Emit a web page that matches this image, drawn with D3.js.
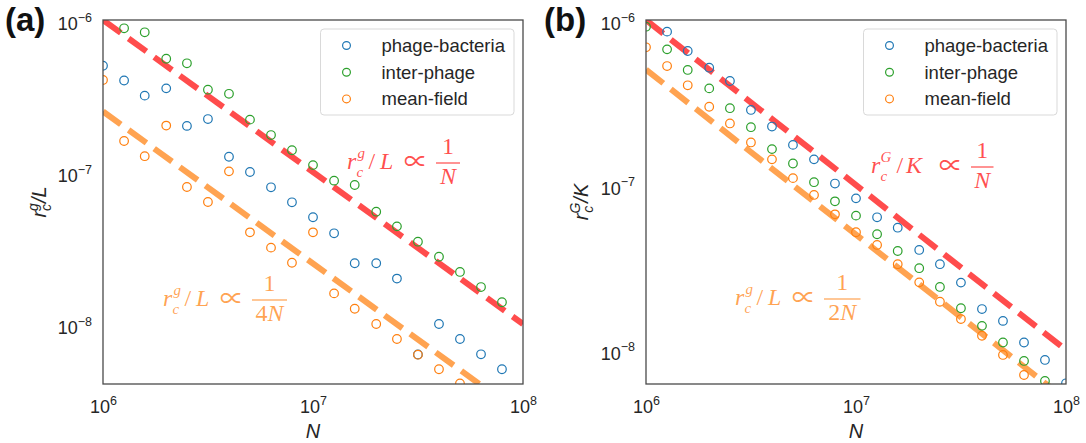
<!DOCTYPE html>
<html>
<head>
<meta charset="utf-8">
<script src="https://cdn.jsdelivr.net/npm/d3@7"></script>
<style>
  body { margin: 0; background: #fff; }
  svg { display: block; }
</style>
</head>
<body>
<svg id="chart" width="1086" height="443"></svg>
<script>
// Population sizes N (log-spaced, 10 per decade)
const popN = [1.0e6, 1.26e6, 1.58e6, 2.0e6, 2.51e6, 3.16e6, 3.98e6, 5.01e6, 6.31e6, 7.94e6,
              1.0e7, 1.26e7, 1.58e7, 2.0e7, 2.51e7, 3.16e7, 3.98e7, 5.01e7, 6.31e7, 7.94e7, 1.0e8];

const seriesNames  = ["phage-bacteria", "inter-phage", "mean-field"];
const seriesColors = ["#1f77b4", "#2ca02c", "#ff7f0e"];

// Panel (a): r_c^g / L
const aPhageBacteria = [5.0e-7, 4.0e-7, 3.18e-7, 3.55e-7, 2.01e-7, 2.23e-7, 1.26e-7, 1.0e-7, 7.93e-8, 6.32e-8,
                        5.04e-8, 3.95e-8, 2.51e-8, 2.51e-8, 1.99e-8, 6.3e-9, 1.0e-8, 7.97e-9, 6.32e-9, 5.04e-9, null];
const aInterPhage    = [null, 8.82e-7, 8.3e-7, 5.56e-7, 5.19e-7, 3.48e-7, 3.27e-7, 2.21e-7, 1.75e-7, 1.39e-7,
                        1.11e-7, 8.77e-8, 8.21e-8, 5.48e-8, 4.39e-8, 3.48e-8, 2.77e-8, 2.2e-8, 1.75e-8, 1.39e-8, null];
const aMeanField     = [4.03e-7, 1.6e-7, 1.27e-7, 2.02e-7, 7.97e-8, 6.35e-8, 1.01e-7, 4.01e-8, 3.18e-8, 2.53e-8,
                        4.01e-8, 1.59e-8, 1.26e-8, 1.0e-8, 7.97e-9, 6.28e-9, 5.04e-9, 4.07e-9, null, null, null];

// Panel (b): r_c^G / K
const bPhageBacteria = [null, 8.5e-7, 6.49e-7, 5.14e-7, 4.27e-7, 2.85e-7, 2.26e-7, 1.75e-7, 1.43e-7, 1.02e-7,
                        8.3e-8, 6.37e-8, 5.51e-8, 4.04e-8, 3.31e-8, 2.56e-8, 1.77e-8, 1.5e-8, 1.11e-8, 8.7e-9, 6.28e-9];
const bInterPhage    = [9.11e-7, 6.64e-7, 4.98e-7, 3.85e-7, 2.92e-7, 2.24e-7, 1.65e-7, 1.35e-7, 1.04e-7, 7.96e-8,
                        6.52e-8, 5.03e-8, 3.98e-8, 3.13e-8, 2.41e-8, 1.79e-8, 1.4e-8, 1.11e-8, 8.58e-9, 6.49e-9, null];
const bMeanField     = [6.83e-7, 5.26e-7, 4.02e-7, 2.98e-7, 2.36e-7, 1.81e-7, 1.43e-7, 1.1e-7, 8.7e-8, 6.64e-8,
                        5.17e-8, 4.33e-8, 3.31e-8, 2.57e-8, 1.96e-8, 1.54e-8, 1.22e-8, 9.33e-9, 7.05e-9, null, null];

// Axis ranges and ticks
const xLimits  = [1e6, 1e8];
const xTicks   = [1e6, 1e7, 1e8];
const yTicks   = [1e-8, 1e-7, 1e-6];
const aYLimits = [4.03e-9, 1e-6];
const bYLimits = [6.22e-9, 1e-6];

// Power-law guide lines: value = coef / N
const aGuideCoefs = [1, 0.25];
const bGuideCoefs = [1, 0.5];
const guideColors = ["rgba(255,0,0,0.7)", "rgba(255,127,14,0.72)"];

const svg = d3.select("#chart");
const SANS = "'Liberation Sans', Arial, sans-serif";
const SERIF = "'Liberation Serif', 'DejaVu Serif', serif";

function exponentLabel(sel, exp) {
  sel.text(null);
  sel.append("tspan").text("10");
  sel.append("tspan").attr("font-size", 12.5).attr("dy", -8.5).text(exp < 0 ? "\u2212" + (-exp) : String(exp));
}

// Typeset "r_c^s / D ∝ 1 / (fN)"; glyph offsets are relative to the start x0
function mathNote(g, x0, barY, parts, color) {
  const fs = 24, fss = 15;
  const base = barY + 6;
  const o = parts.offsets;
  const note = g.append("g").attr("fill", color).attr("font-family", SERIF);
  const lhs = note.append("text").attr("font-size", fs);
  const piece = (dx, y, size, txt, italic, family) => lhs.append("tspan")
    .attr("x", x0 + dx).attr("y", y).attr("font-size", size)
    .attr("font-style", italic ? "italic" : "normal")
    .attr("font-family", family || null).text(txt);
  piece(0, base, fs, "r", true);
  piece(o.sup, base - 11.5, fss, parts.sup, true);
  piece(o.sub, base + 7.5, fss, "c", true);
  piece(o.slash, base, fs, "/", false);
  piece(o.den, base, fs, parts.denom, true);
  piece(o.prop, base + 1, 24, "\u221D", false, "'Noto Sans CJK JP', 'DejaVu Serif', serif");
  const bx = x0 + o.bar, bw = parts.barW;
  note.append("rect").attr("x", bx).attr("y", barY - 0.6).attr("width", bw).attr("height", 1.2);
  note.append("text").attr("x", bx + bw / 2).attr("y", barY - 9).attr("font-size", fs)
    .attr("text-anchor", "middle").text("1");
  const den = note.append("text").attr("x", bx + bw / 2).attr("y", barY + 21).attr("font-size", fs)
    .attr("text-anchor", "middle");
  if (parts.factor) den.append("tspan").text(parts.factor);
  den.append("tspan").attr("font-style", "italic").text("N");
}

const gLOffsets = { sup: 10.5, sub: 9.5, slash: 21.5, den: 33, prop: 57, bar: 89 };
const GKOffsets = { sup: 9.5, sub: 9.5, slash: 25.5, den: 35, prop: 68, bar: 100 };

function drawPanel(cfg) {
  const W = 420, H = 364;
  const g = svg.append("g").attr("transform", `translate(${cfg.left},${cfg.top})`);
  const x = d3.scaleLog().domain(xLimits).range([0, W]);
  const y = d3.scaleLog().domain(cfg.yLimits).range([H, 0]);

  const clipId = "clip-" + cfg.id;
  g.append("clipPath").attr("id", clipId).append("rect").attr("width", W).attr("height", H);
  const plot = g.append("g").attr("clip-path", `url(#${clipId})`);

  // guide lines
  const line = d3.line().x(d => x(d[0])).y(d => y(d[1]));
  cfg.guides.forEach((c, i) => {
    plot.append("path")
      .attr("d", line(xLimits.map(n => [n, c / n])))
      .attr("fill", "none")
      .attr("stroke", guideColors[i])
      .attr("stroke-width", 6)
      .attr("stroke-dasharray", "22,9.6");
  });

  // scatter series
  cfg.series.forEach((vals, si) => {
    plot.append("g").selectAll("circle")
      .data(popN.map((n, i) => [n, vals[i]]).filter(d => d[1] != null))
      .join("circle")
      .attr("cx", d => x(d[0]))
      .attr("cy", d => y(d[1]))
      .attr("r", 4.3)
      .attr("fill", "none")
      .attr("stroke", seriesColors[si])
      .attr("stroke-width", 1.2);
  });

  // axes (labels only, no tick marks)
  const xAxis = g.append("g").attr("transform", `translate(0,${H})`)
    .call(d3.axisBottom(x).tickValues(xTicks).tickSize(0).tickPadding(0));
  xAxis.select(".domain").remove();
  xAxis.selectAll("text")
    .attr("y", 29).attr("dy", null)
    .attr("font-family", SANS).attr("font-size", 18).attr("fill", "#262626")
    .each(function (d) { exponentLabel(d3.select(this), Math.round(Math.log10(d))); });

  const yAxis = g.append("g")
    .call(d3.axisLeft(y).tickValues(yTicks).tickSize(0).tickPadding(0));
  yAxis.select(".domain").remove();
  yAxis.selectAll("text")
    .attr("x", -11).attr("dy", null).attr("y", 9.5)
    .attr("font-family", SANS).attr("font-size", 18).attr("fill", "#262626")
    .each(function (d) { exponentLabel(d3.select(this), Math.round(Math.log10(d))); });

  // frame
  g.append("rect").attr("width", W).attr("height", H)
    .attr("fill", "none").attr("stroke", "#4a4a4a").attr("stroke-width", 1.3);

  // legend
  const lg = g.append("g").attr("transform", `translate(${W - 202.5},${9})`);
  lg.append("rect").attr("width", 193.5).attr("height", 86).attr("rx", 3.5)
    .attr("fill", "rgba(255,255,255,0.85)").attr("stroke", "#d9d9d9").attr("stroke-width", 1);
  seriesNames.forEach((name, i) => {
    const cy = 16.5 + i * 26.7;
    lg.append("circle").attr("cx", 26).attr("cy", cy).attr("r", 3.9)
      .attr("fill", "none").attr("stroke", seriesColors[i]).attr("stroke-width", 1.2);
    lg.append("text").attr("x", 61).attr("y", cy + 6.5)
      .attr("font-family", SANS).attr("font-size", 18.5).attr("fill", "#262626").text(name);
  });

  // annotations
  cfg.notes.forEach(n => mathNote(g, n.x, n.bar, n.parts, guideColors[n.color]));

  // axis titles
  g.append("text").attr("x", W / 2).attr("y", H + 54).attr("text-anchor", "middle")
    .attr("font-family", SANS).attr("font-size", 20).attr("font-style", "italic")
    .attr("fill", "#262626").text("N");

  const yl = g.append("text")
    .attr("transform", `translate(${cfg.yLabelX},${H / 2}) rotate(-90)`)
    .attr("text-anchor", "middle")
    .attr("font-family", SANS).attr("font-size", 20).attr("font-style", "italic").attr("fill", "#262626");
  yl.append("tspan").text("r");
  yl.append("tspan").attr("font-size", 14).attr("dy", -8).text(cfg.yLabelSup);
  yl.append("tspan").attr("font-size", 14).attr("dx", cfg.yLabelSup === "G" ? -10 : -8).attr("dy", 12.5).text("c");
  yl.append("tspan").attr("dx", cfg.yLabelSup === "G" ? 3 : 1).attr("dy", -4.5).text("/" + cfg.yLabelDen);

  // panel tag
  svg.append("text").attr("x", cfg.tagX).attr("y", 31)
    .attr("font-family", SANS).attr("font-size", 33).attr("font-weight", "bold")
    .attr("fill", "#111").text(cfg.tag);
}

drawPanel({
  id: "a", left: 103, top: 20, yLimits: aYLimits, guides: aGuideCoefs,
  series: [aPhageBacteria, aInterPhage, aMeanField],
  yLabelX: -57, yLabelSup: "g", yLabelDen: "L", tag: "(a)", tagX: 5,
  notes: [
    { x: 244, bar: 143, color: 0, parts: { sup: "g", denom: "L", offsets: gLOffsets, barW: 24 } },
    { x: 60, bar: 280, color: 1, parts: { sup: "g", denom: "L", factor: "4", offsets: gLOffsets, barW: 35 } }
  ]
});

drawPanel({
  id: "b", left: 646, top: 20, yLimits: bYLimits, guides: bGuideCoefs,
  series: [bPhageBacteria, bInterPhage, bMeanField],
  yLabelX: -58, yLabelSup: "G", yLabelDen: "K", tag: "(b)", tagX: 544,
  notes: [
    { x: 225, bar: 147, color: 0, parts: { sup: "G", denom: "K", offsets: GKOffsets, barW: 22.5 } },
    { x: 89, bar: 279, color: 1, parts: { sup: "g", denom: "L", factor: "2", offsets: gLOffsets, barW: 36.5 } }
  ]
});
</script>
</body>
</html>
